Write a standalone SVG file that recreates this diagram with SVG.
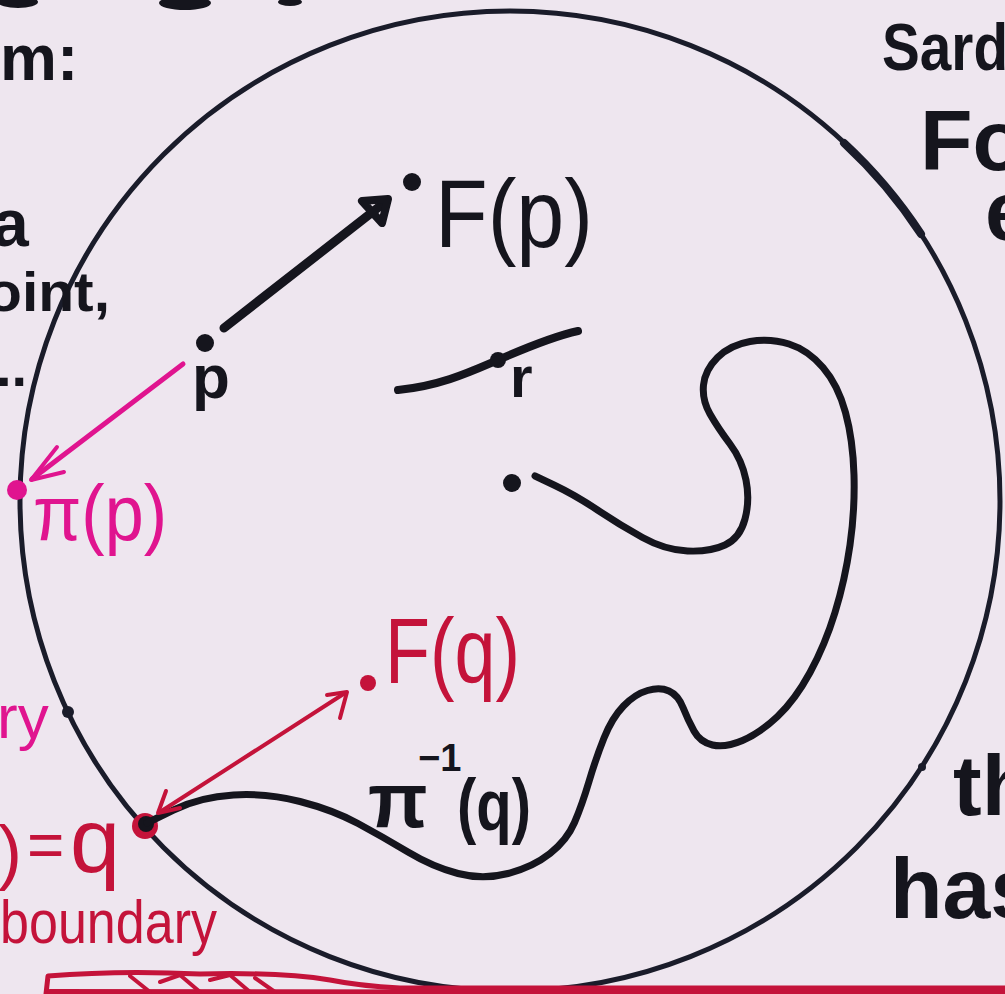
<svg xmlns="http://www.w3.org/2000/svg" width="1005" height="994" viewBox="0 0 1005 994">
<style>
.ink{fill:#15151d;font-family:"Liberation Sans","DejaVu Sans",sans-serif}
.b{font-weight:700}
.red{fill:#c4133a;font-family:"Liberation Sans","DejaVu Sans",sans-serif}
.mag{fill:#e0148f;font-family:"Liberation Sans","DejaVu Sans",sans-serif}
.bl{fill:none;stroke:#15151d;stroke-linecap:round;stroke-linejoin:round}
.rl{fill:none;stroke:#c4133a;stroke-linecap:round;stroke-linejoin:round}
.ml{fill:none;stroke:#e0148f;stroke-linecap:round;stroke-linejoin:round}
</style>
<rect width="1005" height="994" fill="#eee6ef"/>
<g id="top-fragments" fill="#15151d">
<ellipse cx="18" cy="2" rx="20" ry="6"/>
<ellipse cx="185" cy="3" rx="26" ry="7"/>
<ellipse cx="290" cy="2" rx="12" ry="4"/>
</g>
<g id="disc">
<circle cx="510" cy="501" r="490" fill="none" stroke="#1a1c2a" stroke-width="5"/>
<path d="M844,143 A490,490 0 0 1 921,234" fill="none" stroke="#1a1c2a" stroke-width="8" stroke-linecap="round"/>
<circle cx="68" cy="712" r="6" fill="#1a1c2a"/>
<circle cx="922" cy="767" r="4" fill="#1a1c2a"/>
</g>
<g id="left-text">
<text class="ink b" x="0" y="80" font-size="64">m:</text>
<text class="ink b" x="-8" y="246" font-size="66">a</text>
<text class="ink b" x="-14" y="311" font-size="56" textLength="124" lengthAdjust="spacingAndGlyphs">oint,</text>
<text class="ink b" x="-4" y="386" font-size="56">..</text>
<text class="mag" x="-3" y="738" font-size="62">ry</text>
<text class="red" x="-2" y="876" font-size="72">)</text>
<text class="red" x="27" y="867" font-size="64">=</text>
<text class="red" x="70" y="872" font-size="90">q</text>
<text class="red" x="0" y="943" font-size="62" textLength="217" lengthAdjust="spacingAndGlyphs">boundary</text>
</g>
<g id="right-text">
<text class="ink b" x="882" y="70" font-size="66" textLength="126" lengthAdjust="spacingAndGlyphs">Sard</text>
<text class="ink b" x="920" y="170" font-size="86">Fo</text>
<text class="ink b" x="985" y="240" font-size="84">e</text>
<text class="ink b" x="953" y="815" font-size="86">th</text>
<text class="ink b" x="890" y="918" font-size="86">has</text>
</g>
<g id="red-bar" class="rl">
<path d="M46,994 L48,976 Q120,970 200,974 Q280,972 330,980 Q360,986 400,988 L1005,988" stroke-width="5"/>
<path d="M50,992 L1005,993" stroke-width="6"/>
<path d="M130,976 L150,992 M160,982 L180,975 L200,992 M210,980 L230,975 L250,992 M255,978 L275,992" stroke-width="4"/>
</g>
<g id="node-p">
<circle cx="205" cy="343" r="9" fill="#15151d"/>
<text class="ink b" x="192" y="398" font-size="62">p</text>
</g>
<g id="node-Fp">
<circle cx="412" cy="182" r="9" fill="#15151d"/>
<text class="ink" x="435" y="247" font-size="96" textLength="158" lengthAdjust="spacingAndGlyphs">F(p)</text>
</g>
<g id="node-r">
<circle cx="498" cy="360" r="8" fill="#15151d"/>
<text class="ink b" x="510" y="397" font-size="58">r</text>
</g>
<g id="node-start">
<circle cx="512" cy="483" r="9" fill="#15151d"/>
</g>
<g id="node-pip">
<circle cx="17" cy="490" r="10" fill="#e0148f"/>
<text class="mag" x="33" y="540" font-size="78" textLength="134" lengthAdjust="spacingAndGlyphs">π(p)</text>
</g>
<g id="node-q">
<circle cx="145" cy="826" r="13" fill="#c4133a"/>
<circle cx="146" cy="824" r="8" fill="#15151d"/>
</g>
<g id="node-Fq">
<circle cx="368" cy="683" r="8" fill="#c4133a"/>
<text class="red" x="385" y="683" font-size="92" textLength="135" lengthAdjust="spacingAndGlyphs">F(q)</text>
</g>
<g id="label-preimage">
<text class="ink b" x="368" y="827" font-size="78">π</text>
<text class="ink b" x="418" y="771" font-size="38">−1</text>
<text class="ink b" x="457" y="830" font-size="72" textLength="74" lengthAdjust="spacingAndGlyphs">(q)</text>
</g>
<g id="connectors">
<path class="bl" stroke-width="9" d="M224,328 L384,203"/>
<path class="bl" stroke-width="8" fill="#15151d" d="M362,201 L388,199 L382,223 Z"/>
<path class="bl" stroke-width="8" d="M398,390 C440,386 470,372 498,360 C530,346 555,336 578,331"/>
<path class="bl" stroke-width="7" d="M147,823 L173.5,810 Q200,797 233.5,795 Q267,793 300,801.5 Q333,810 358,823.5 Q383,837 408,852 Q433,867 458,873.5 Q483,880 508,873.5 Q533,867 550,853.5 Q567,840 574.5,822.5 Q582,805 589,781.5 Q596,758 604,738 Q612,718 623.5,706 Q635,694 647.5,690.5 Q660,687 669,691 Q678,695 683,707.5 Q688,720 694,731 Q700,742 712.5,745 Q725,748 742.5,740.5 Q760,733 777.5,716.5 Q795,700 810,672.5 Q825,645 835,612.5 Q845,580 850,545 Q855,510 854,475 Q853,440 845.5,412.5 Q838,385 823,367.5 Q808,350 789,344 Q770,338 750,341.5 Q730,345 717.5,357.5 Q705,370 703.5,385 Q702,400 710,414 Q718,428 730,444 Q742,460 746,480 Q750,500 745,519 Q740,538 725,545 Q710,552 687.5,551 Q665,550 642.5,537.5 Q620,525 597.5,510 Q575,495 555,485.5 L535,476"/>
<path class="ml" stroke-width="5" d="M183,364 L32,479"/>
<path class="ml" stroke-width="4" d="M57,447 L31,480 L64,472"/>
<path class="rl" stroke-width="4" d="M160,812 L345,693"/>
<path class="rl" stroke-width="4" d="M327,695 L347,692 L340,718"/>
<path class="rl" stroke-width="4" d="M166,791 L158,813 L180,808"/>
</g>
</svg>
